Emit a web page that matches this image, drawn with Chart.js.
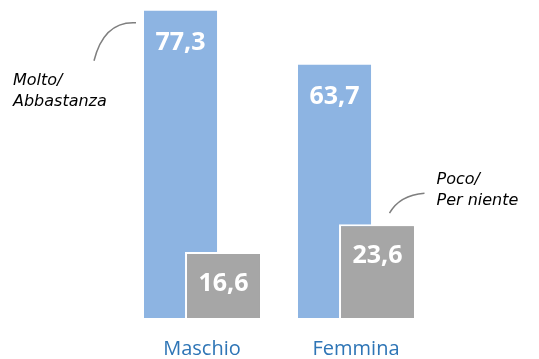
<!DOCTYPE html>
<html>
<head>
<meta charset="utf-8">
<script src="https://cdn.jsdelivr.net/npm/chart.js@4/dist/chart.umd.min.js"></script>
<style>
  html, body { margin: 0; padding: 0; background: #fff; }
  #wrap { width: 539px; height: 359px; }
</style>
</head>
<body>
<div id="wrap"><canvas id="chart"></canvas></div>
<script>
// dati
const categories = ['Maschio', 'Femmina'];
const moltoAbbastanza = [77.3, 63.7];
const pocoPerNiente = [16.6, 23.6];
const noteMolto = ['Molto/', 'Abbastanza'];
const notePoco = ['Poco/', 'Per niente'];

const fmt = v => v.toFixed(1).replace('.', ',');
const noteFont = 'italic 16px "DejaVu Sans"';

// barre grigie sopra quelle blu, etichette dei valori, note con la curva
const labelsPlugin = {
    id: 'labels',
    afterDatasetsDraw(chart) {
        const ctx = chart.ctx;
        ctx.save();
        // ridisegna le barre grigie sopra (chart.js mette il primo dataset in cima)
        chart.getDatasetMeta(1).data.forEach(el => el.draw(ctx, chart.chartArea));

        ctx.fillStyle = '#fff';
        ctx.font = 'bold 25px "Open Sans"';
        ctx.textAlign = 'center';
        ctx.textBaseline = 'middle';
        chart.data.datasets.forEach((ds, i) => {
            chart.getDatasetMeta(i).data.forEach((bar, j) => {
                ctx.fillText(fmt(ds.data[j]), bar.x, bar.y + 32);
            });
        });

        // nota "Molto/Abbastanza" sulla prima barra blu
        const b1 = chart.getDatasetMeta(0).data[0];
        let ax = b1.x - b1.width / 2 - 8, ay = b1.y + 12;
        drawCurve(ctx, ax, ay, ax - 42, ay + 38);
        drawNote(ctx, noteMolto, ax - 123, ay + 58);

        // nota "Poco/Per niente" sull'ultima barra grigia
        const b2 = chart.getDatasetMeta(1).data[1];
        ax = b2.x + 12; ay = b2.y - 11;
        drawCurve(ctx, ax, ay, ax + 35, ay - 20, true);
        drawNote(ctx, notePoco, ax + 47, ay - 33);
        ctx.restore();
    }
};

function drawCurve(ctx, x1, y1, x2, y2, up) {
    ctx.strokeStyle = '#7f7f7f';
    ctx.lineWidth = 1.5;
    ctx.beginPath();
    ctx.moveTo(x1, y1);
    if (up) ctx.quadraticCurveTo(x1 + 10, y2 + 2, x2, y2);
    else ctx.quadraticCurveTo(x2 + 10, y1 - 2, x2, y2);
    ctx.stroke();
}

function drawNote(ctx, lines, x, y) {
    ctx.fillStyle = '#000';
    ctx.font = noteFont;
    ctx.textAlign = 'left';
    ctx.textBaseline = 'middle';
    lines.forEach((t, k) => ctx.fillText(t, x, y + k * 21));
}

new Chart(document.getElementById('chart'), {
    type: 'bar',
    data: {
        labels: categories,
        datasets: [{
            label: 'Molto/Abbastanza',
            data: moltoAbbastanza,
            backgroundColor: '#8db4e2',
            borderWidth: 0,
            barPercentage: 1.70,
            categoryPercentage: 0.558
        }, {
            label: 'Poco/Per niente',
            data: pocoPerNiente,
            backgroundColor: '#a6a6a6',
            borderColor: '#ffffff',
            borderWidth: 2,
            borderSkipped: 'start',
            barPercentage: 1.79,
            categoryPercentage: 0.558
        }]
    },
    options: {
        responsive: true,
        maintainAspectRatio: false,
        animation: false,
        layout: { padding: { left: 125, right: 106, top: 0, bottom: 0 } },
        plugins: { legend: { display: false }, tooltip: { enabled: false } },
        scales: {
            x: {
                grid: { display: false },
                border: { display: false },
                ticks: {
                    color: '#2e75b6',
                    font: { family: 'Open Sans', size: 20, lineHeight: 1 },
                    padding: 13
                },
                afterFit: scale => { scale.height = 41; }
            },
            y: { display: false, min: 0, max: 80 }
        }
    },
    plugins: [labelsPlugin]
});
</script>
</body>
</html>
